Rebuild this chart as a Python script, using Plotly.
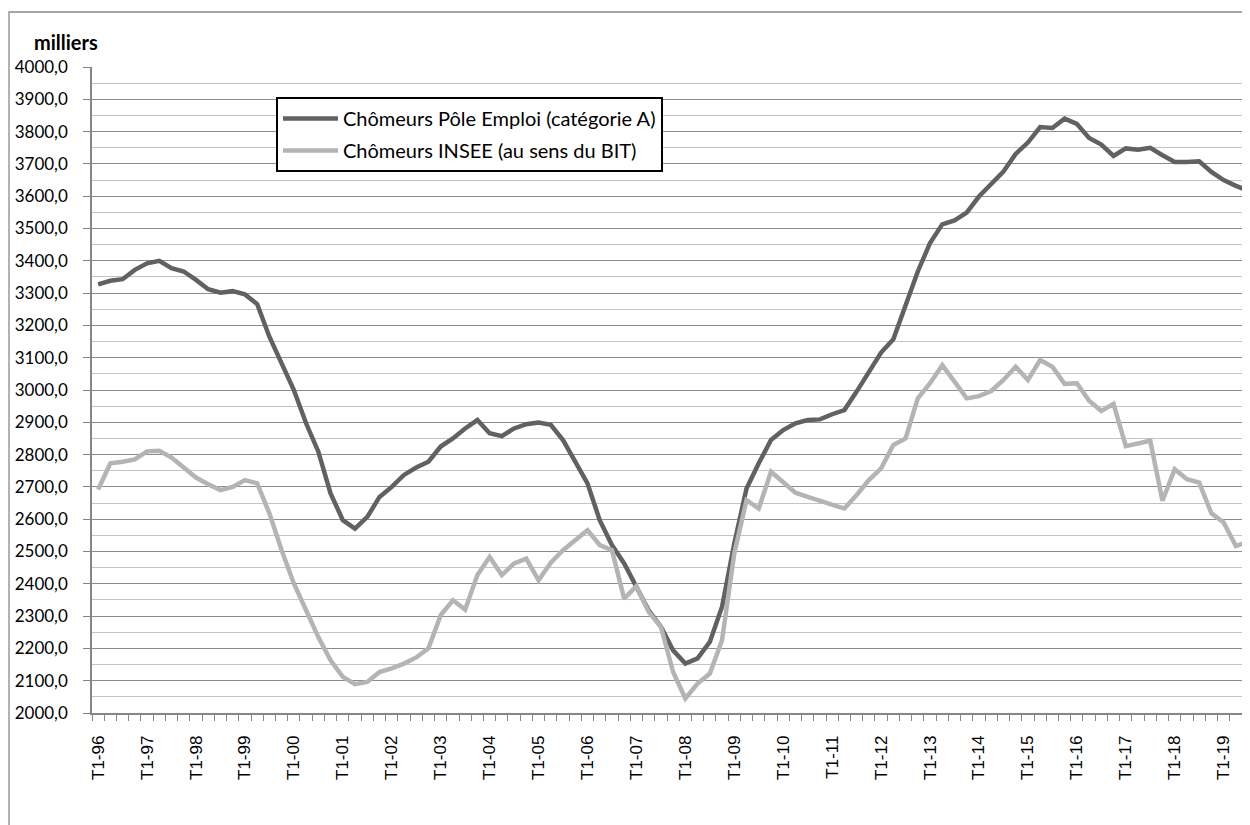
import plotly.graph_objects as go

# ---- data (milliers) ----
year_labels = ["T1-96", "T1-97", "T1-98", "T1-99", "T1-00", "T1-01", "T1-02", "T1-03",
               "T1-04", "T1-05", "T1-06", "T1-07", "T1-08", "T1-09", "T1-10", "T1-11",
               "T1-12", "T1-13", "T1-14", "T1-15", "T1-16", "T1-17", "T1-18", "T1-19"]

pole_emploi = [3327, 3338, 3343, 3372, 3392, 3400, 3377, 3367, 3341, 3312,
               3301, 3306, 3296, 3266, 3165, 3083, 3000, 2897, 2809, 2680,
               2597, 2571, 2607, 2669, 2700, 2737, 2760, 2778, 2825, 2850,
               2881, 2907, 2866, 2857, 2881, 2894, 2899, 2892, 2845, 2778,
               2711, 2597, 2520, 2463, 2390, 2318, 2267, 2194, 2153, 2169,
               2220, 2329, 2525, 2695, 2773, 2845, 2876, 2897, 2907, 2909,
               2925, 2938, 2995, 3057, 3116, 3157, 3263, 3367, 3455, 3513,
               3525, 3549, 3599, 3640, 3676, 3731, 3766, 3814, 3811, 3840,
               3824, 3780, 3760, 3725, 3748, 3744, 3750, 3727, 3706, 3706,
               3708, 3675, 3650, 3632, 3617]

insee_bit = [2692, 2773, 2778, 2785, 2810, 2812, 2791, 2762, 2729, 2708,
             2690, 2700, 2721, 2711, 2618, 2504, 2401, 2318, 2235, 2163,
             2112, 2089, 2096, 2127, 2138, 2153, 2172, 2200, 2303, 2349,
             2320, 2427, 2483, 2427, 2463, 2478, 2411, 2465, 2504, 2535,
             2566, 2520, 2504, 2354, 2393, 2313, 2267, 2127, 2045, 2091,
             2122, 2225, 2494, 2659, 2633, 2747, 2716, 2682, 2669, 2657,
             2647, 2633, 2675, 2721, 2757, 2830, 2850, 2974, 3021, 3077,
             3026, 2974, 2981, 2997, 3031, 3072, 3031, 3093, 3072, 3019,
             3021, 2967, 2935, 2957, 2826, 2835, 2843, 2657, 2755, 2724,
             2713, 2618, 2590, 2517, 2530]

quarters = [f"T{q}-{str(1996 + k)[-2:]}" for k in range(24) for q in (1, 2, 3, 4)][:len(pole_emploi)]
xs = list(range(len(pole_emploi)))
tick_positions = [4 * k for k in range(len(year_labels))]

# page has an 8px body margin: figure sized so it ends at the window edge
OFF = 8
W, H = 1242, 817
ML, MT, MB, MR = 84, 59, 112, 0
PW = W - ML - MR
PH = H - MT - MB
CAT = 12.234  # px per quarter


def px_x(p):  # page pixel -> paper x
    return (p - OFF - ML) / PW


def px_y(p):  # page pixel -> paper y
    return (H - MB - (p - OFF)) / PH


fig = go.Figure()
fig.add_trace(go.Scatter(
    x=xs, y=pole_emploi, mode="lines", name="Chômeurs Pôle Emploi (catégorie A)",
    line=dict(color="#616161", width=4.5), customdata=quarters,
    hovertemplate="%{customdata}: %{y:.1f}<extra></extra>", legendgroup="a"))
fig.add_trace(go.Scatter(
    x=xs, y=insee_bit, mode="lines", name="Chômeurs INSEE (au sens du BIT)",
    line=dict(color="#b4b4b4", width=4.5), customdata=quarters,
    hovertemplate="%{customdata}: %{y:.1f}<extra></extra>", legendgroup="b"))

fig.update_layout(
    width=W, height=H,
    margin=dict(l=ML, r=MR, t=MT, b=MB, pad=0, autoexpand=False),
    paper_bgcolor="white", plot_bgcolor="white",
    separators=", ",
    showlegend=True,
    legend=dict(
        x=px_x(276), y=px_y(97), xanchor="left", yanchor="top",
        bgcolor="white", bordercolor="black", borderwidth=2,
        font=dict(family="Lato", size=20, color="black"),
        itemwidth=55, tracegroupgap=3, traceorder="grouped",
    ),
    xaxis=dict(
        range=[-0.5, -0.5 + PW / CAT], automargin=False,
        tickmode="array", tickvals=tick_positions, ticktext=year_labels,
        tickangle=-90, ticks="", ticklabelstandoff=14,
        tickfont=dict(family="Liberation Sans", size=17, color="black"),
        showline=True, linecolor="#868686", linewidth=1.5,
        showgrid=False, zeroline=False,
        minor=dict(tickmode="linear", tick0=-0.5, dtick=1, ticks="outside",
                   ticklen=6, tickcolor="#868686", tickwidth=1.2, showgrid=False),
    ),
    yaxis=dict(
        range=[2000, 4000], tickmode="linear", tick0=2000, dtick=100, automargin=False,
        tickformat=".1f", ticks="outside", ticklen=7, tickcolor="#868686",
        tickwidth=1.2, ticklabelstandoff=12,
        tickfont=dict(family="Lato", size=17, color="black"),
        showline=True, linecolor="#868686", linewidth=1.5,
        showgrid=True, gridcolor="#8c8c8c", gridwidth=1.3, zeroline=False,
        minor=dict(tickmode="linear", tick0=2050, dtick=100, showgrid=True,
                   gridcolor="#c4c4c4", gridwidth=1.3, ticks=""),
    ),
    annotations=[dict(
        text="<b>milliers</b>", xref="paper", yref="paper",
        x=px_x(32), y=px_y(42), xanchor="left", yanchor="middle",
        showarrow=False, font=dict(family="Lato", size=20, color="black"),
    )],
    shapes=[dict(
        type="rect", xref="paper", yref="paper",
        x0=px_x(9), y0=px_y(12), x1=px_x(1290), y1=px_y(880),
        line=dict(color="#8a8a8a", width=1.3), fillcolor="rgba(0,0,0,0)",
        layer="above",
    )],
)

fig.write_html("out.html")
